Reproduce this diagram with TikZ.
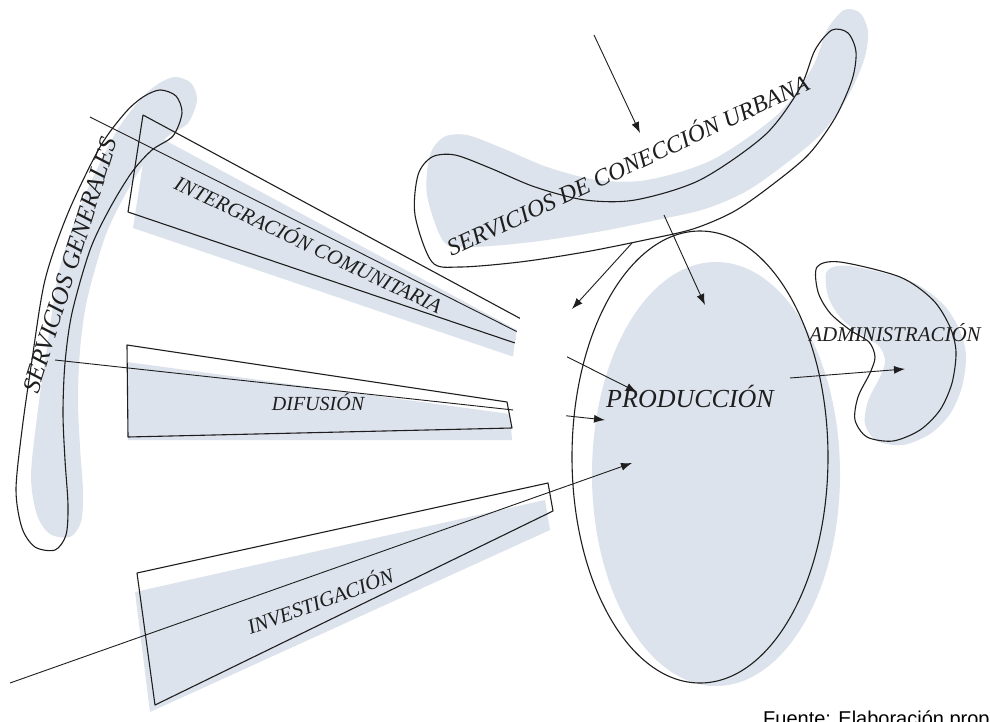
\documentclass[tikz,border=0pt]{standalone}
\usepackage{fontspec}
\setmainfont{Liberation Serif}
\newfontfamily\sourcefont{Liberation Sans}
\usetikzlibrary{arrows.meta}

\definecolor{ink}{RGB}{30,30,30}
\definecolor{shadegray}{RGB}{221,227,236}

% outlines of the free-hand shapes, in pixel coordinates
\newcommand{\tubepath}{plot[smooth cycle] coordinates {(160,90) (143,97) (125,113) (100,147) (68,213) (45,280) (32,360) (22,430) (16,490) (22,528) (35,547) (55,550) (66,535) (68,505) (65,460) (63,413) (65,363) (72,313) (90,250) (110,208) (132,172) (152,150) (173,136) (182,113) (176,96)}}
\newcommand{\urbpath}{plot[smooth cycle] coordinates {(415,215) (418,175) (432,157) (455,155) (490,168) (535,187) (585,200) (635,200) (700,180) (765,135) (800,88) (815,50) (832,30) (848,33) (856,52) (852,80) (835,118) (808,155) (768,188) (733,212) (693,229) (645,240) (585,252) (520,262) (460,267) (432,262)}}
\newcommand{\admpath}{plot[smooth cycle] coordinates {(817,267) (840,262) (900,277) (933,300) (950,327) (956,352) (952,383) (940,410) (920,430) (893,441) (867,437) (855,420) (858,397) (870,373) (875,357) (869,342) (850,330) (830,313) (818,292)}}

\begin{document}
\begin{tikzpicture}[
  x=1pt, y=-1pt,
  outline/.style={draw=ink, line width=1.1pt, line join=round},
  shadow/.style={fill=shadegray, draw=none},
  flow/.style={draw=ink, line width=0.9pt, -{Latex[length=11pt, width=8pt]}},
  lab/.style={font={\fontsize{#1}{#1}\selectfont\itshape}, text=ink, inner sep=0pt}
]
\useasboundingbox (0,0) rectangle (990,722);
\clip (0,0) rectangle (990,722);
\fill[white] (0,0) rectangle (990,722);

% shadows
\fill[shadow, shift={(15,-13)}] \tubepath;
\fill[shadow, shift={(12,-20)}] \urbpath;
\fill[shadow, shift={(10,4)}] \admpath;
\fill[shadow] (716,474) ellipse [x radius=124pt, y radius=212pt];
\fill[shadow, shift={(5,16)}] (143,115) -- (523,320) -- (515,343) -- (128,212) -- cycle;
\fill[shadow] (127,362) -- (510,414) -- (512,440) -- (128,440) -- cycle;
\fill[shadow] (135,592) -- (545,500) -- (550,530) -- (150,712) -- cycle;

% shapes
\draw[outline] \tubepath;
\draw[outline] \urbpath;
\draw[outline] \admpath;
\draw[outline] (700,457) ellipse [x radius=128pt, y radius=226pt];
\draw[outline] (143,115) -- (523,320) -- (515,343) -- (128,212) -- cycle;
\draw[outline] (127,345) -- (507,402) -- (512,428) -- (128,437) -- cycle;
\draw[outline] (137,573) -- (548,483) -- (553,511) -- (155,705) -- cycle;

% arrow ends
\coordinate (ic0) at (90,117);   \coordinate (ic1) at (637,392);
\coordinate (df0) at (55,360);   \coordinate (df1) at (605,420);
\coordinate (iv0) at (10,683);   \coordinate (iv1) at (632,463);
\coordinate (cu0) at (594,35);   \coordinate (cu1) at (640,133);
\coordinate (cu2) at (664,215);  \coordinate (cu3) at (705,305);
\coordinate (cu4) at (632,243);  \coordinate (cu5) at (572,309);
\coordinate (ad0) at (790,378);  \coordinate (ad1) at (905,369);

\draw[flow] (ic0) -- (ic1);
\draw[flow] (df0) -- (df1);
\draw[flow] (iv0) -- (iv1);
\draw[flow] (cu0) -- (cu1);
\draw[flow] (cu2) -- (cu3);
\draw[flow] (cu4) -- (cu5);
\draw[flow] (ad0) -- (ad1);

% the gap in front of the production ellipse
\fill[white] (540,383) ellipse [x radius=28pt, y radius=92pt];

% labels
\node[lab=25, rotate=72.6] (gen) at (70,265) {SERVICIOS GENERALES};
\node[lab=21, rotate=-25.4] (com) at (309,243) {INTERGRACIÓN COMUNITARIA};
\node[lab=20] (dif) at (318,402) {DIFUSIÓN};
\node[lab=21, rotate=20] (inv) at (320,600) {INVESTIGACIÓN};
\node[lab=26] (prod) at (690,396) {PRODUCCIÓN};
\node[lab=21] (adm) at (895,333) {ADMINISTRACIÓN};
\node[lab=24, rotate=25] (urb) at (627,164) {SERVICIOS DE CONECCIÓN URBANA};
\node[font={\sourcefont\fontsize{20}{20}\selectfont}, anchor=base west, inner sep=0pt] (src) at (763,725) {Fuente: Elaboración prop};
\end{tikzpicture}
\end{document}
